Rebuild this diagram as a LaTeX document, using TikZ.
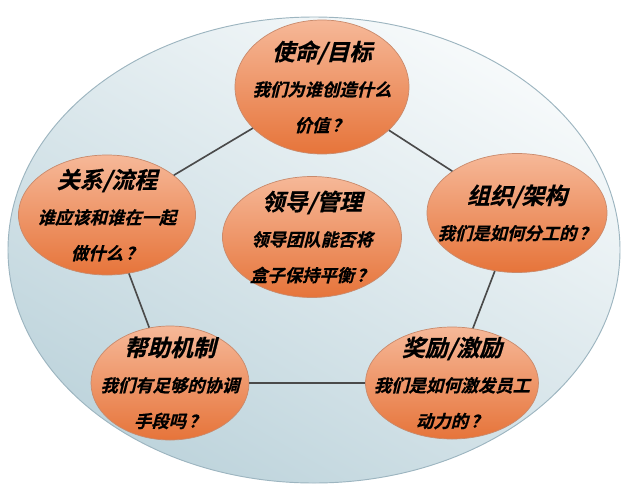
\documentclass[tikz,border=0pt]{standalone}
\usepackage{fontspec}
\usetikzlibrary{shapes.geometric}
\newfontfamily\cjk{Noto Sans CJK SC Bold}[FakeSlant=0.25, FakeBold=0.6]
\definecolor{bgtop}{HTML}{F7FAFB}
\definecolor{bgbot}{HTML}{BED4DC}
\definecolor{bgline}{HTML}{9DB5C0}
\definecolor{peachtop}{HTML}{F6B898}
\definecolor{peachbot}{HTML}{E6743A}
\definecolor{peachline}{HTML}{C98A6C}
\definecolor{linkgray}{HTML}{4A4A4A}
\newcommand{\headfont}{\fontsize{19.5}{22}\selectfont}
\newcommand{\qm}{\kern0.15em？}
\begin{document}
\begin{tikzpicture}[
        part/.style={ellipse, draw=peachline, line width=0.6pt, top color=peachtop, bottom color=peachbot, inner sep=-30pt, align=center, font=\cjk\fontsize{14.8}{30.5}\selectfont},
        link/.style={draw=linkgray, line width=1.4pt}
    ]
        \useasboundingbox (-9.42,-7.44) rectangle (9.78,7.5);
        % Background
        \draw[bgline, line width=0.8pt, top color=bgtop, bottom color=bgbot, shading angle=-30] (0,0) ellipse [x radius=9.18, y radius=6.99];

        % Five outer parts
        \node[part, minimum width=5.22cm, minimum height=4.02cm] (mission) at (0.24,4.89) {{\headfont 使命/目标}\\我们为谁创造什么\\价值\qm};
        \node[part, minimum width=5.4cm, minimum height=3.57cm] (structure) at (6.09,1.11) {{\headfont 组织/架构}\\我们是如何分工的\qm};
        \node[part, minimum width=5.19cm, minimum height=3.36cm] (reward) at (4.14,-3.99) {{\headfont 奖励/激励}\\我们是如何激发员工\\动力的\qm};
        \node[part, minimum width=4.74cm, minimum height=3.42cm] (helper) at (-4.32,-3.99) {{\headfont 帮助机制}\\我们有足够的协调\\手段吗\qm};
        \node[part, minimum width=5.31cm, minimum height=3.6cm] (relation) at (-6.21,1.05) {{\headfont 关系/流程}\\谁应该和谁在一起\\做什么\qm};

        % Centre
        \node[part, minimum width=5.37cm, minimum height=3.63cm] (leader) at (-0.06,0.39) {{\headfont 领导/管理}\\领导团队能否将\\盒子保持平衡\qm};

        % Connect parts
        \draw[link] (mission) -- (structure);
        \draw[link] (structure) -- (reward);
        \draw[link] (reward) -- (helper);
        \draw[link] (helper) -- (relation);
        \draw[link] (relation) -- (mission);
    \end{tikzpicture}
\end{document}
